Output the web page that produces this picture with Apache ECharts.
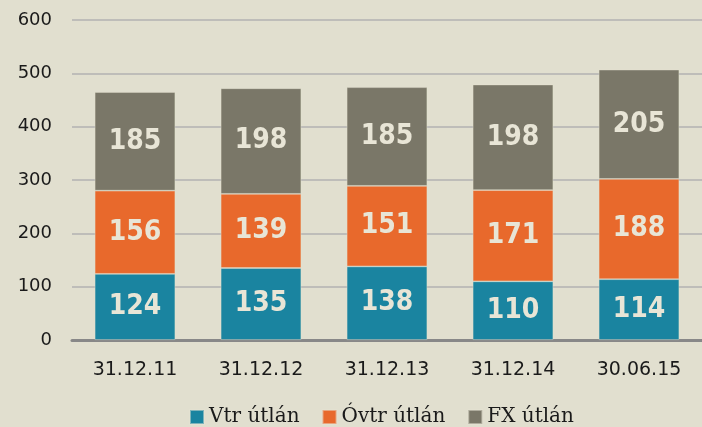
<!DOCTYPE html>
<html>
<head>
<meta charset="utf-8">
<script src="https://cdn.jsdelivr.net/npm/echarts@6/dist/echarts.min.js"></script>
<style>
  html, body { margin: 0; padding: 0; background: #e1dfcf; }
  #chart { width: 702px; height: 427px; }
</style>
</head>
<body>
<div id="chart"></div>
<script>
const categories = ['31.12.11', '31.12.12', '31.12.13', '31.12.14', '30.06.15'];
const vtr = [124, 135, 138, 110, 114];
const ovtr = [156, 139, 151, 171, 188];
const fx = [185, 198, 185, 198, 205];
const seriesNames = ['Vtr útlán', 'Óvtr útlán', 'FX útlán'];
const colors = ['#1a84a0', '#e8692c', '#7a7768'];

const chart = echarts.init(document.getElementById('chart'));

function barSeries(name, data, color) {
  return {
    name,
    type: 'bar',
    stack: 'total',
    barWidth: '64%',
    data,
    itemStyle: { color, borderColor: 'rgba(230,227,211,0.5)', borderWidth: 0.8 },
    label: {
      show: true,
      color: '#e8e5d6',
      fontSize: 28,
      fontWeight: 'bold',
      fontFamily: '"DejaVu Sans Condensed", "DejaVu Sans", sans-serif'
    }
  };
}

chart.setOption({
  backgroundColor: '#e1dfcf',
  animation: false,
  color: colors,
  grid: { left: 72, right: 0, top: 20, bottom: 87, containLabel: false },
  legend: {
    top: 402,
    left: 184,
    itemWidth: 14,
    itemHeight: 14,
    itemGap: 22,
    icon: 'rect',
    textStyle: { fontSize: 20, color: '#1a1a1a', fontFamily: 'DejaVu Serif' },
    data: seriesNames
  },
  xAxis: {
    type: 'category',
    data: categories,
    axisLine: { lineStyle: { color: '#888888', width: 3 } },
    axisTick: { show: false },
    axisLabel: { color: '#1a1a1a', fontSize: 19, margin: 21, fontFamily: 'DejaVu Sans' }
  },
  yAxis: {
    type: 'value',
    min: 0,
    max: 600,
    interval: 100,
    axisLine: { show: false },
    axisTick: { show: false },
    axisLabel: { color: '#1a1a1a', fontSize: 18, margin: 20, fontFamily: 'DejaVu Sans' },
    splitLine: { lineStyle: { color: '#b2b2b2', width: 1.5 } }
  },
  series: [
    barSeries(seriesNames[0], vtr, colors[0]),
    barSeries(seriesNames[1], ovtr, colors[1]),
    barSeries(seriesNames[2], fx, colors[2])
  ]
});
</script>
</body>
</html>
